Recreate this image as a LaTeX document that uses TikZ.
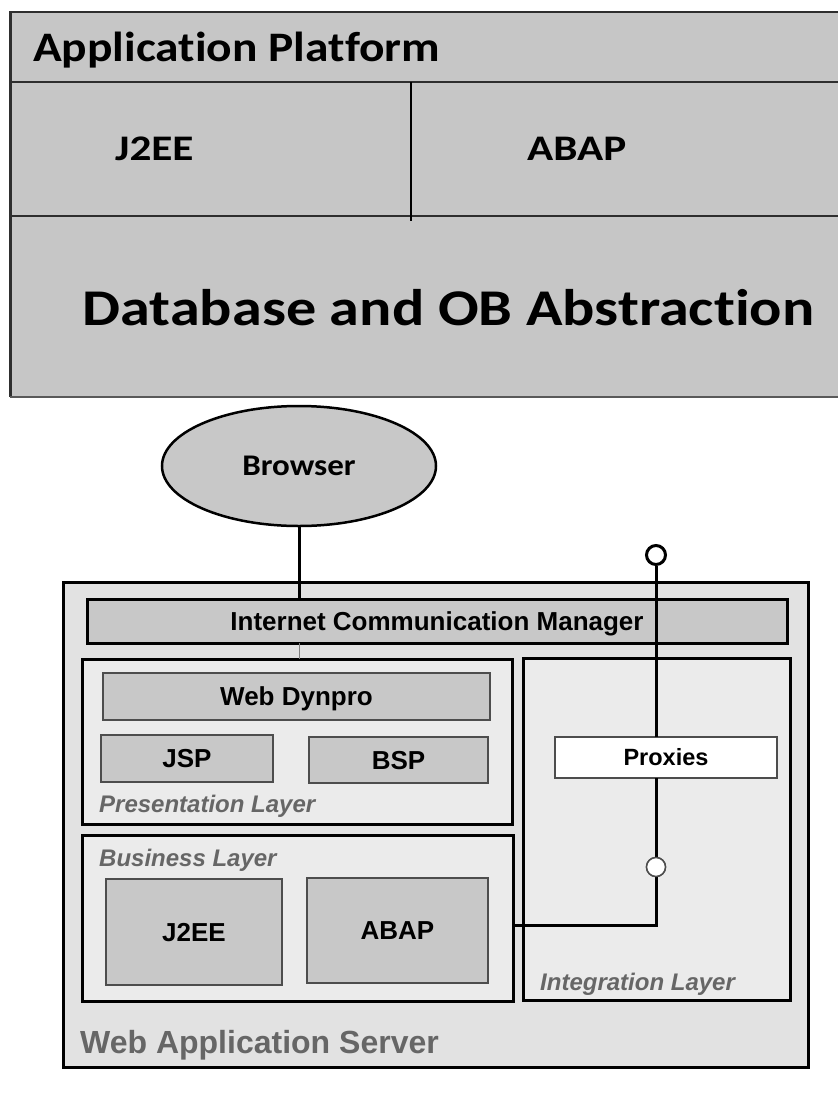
\documentclass[tikz,border=0pt]{standalone}
\usepackage{fontspec}
\setmainfont{Liberation Sans}
\newfontfamily\hdrfont[FakeStretch=1.13,Ligatures=NoCommon]{Carlito}
\newfontfamily\cellfont[FakeStretch=1.2,Ligatures=NoCommon]{Carlito}
\newfontfamily\dbfont[FakeStretch=1.17,Ligatures=NoCommon]{Carlito}
\newfontfamily\calfont[FakeStretch=1.1,Ligatures=NoCommon]{Carlito}
\usetikzlibrary{shapes.geometric}
\definecolor{topgray}{HTML}{C6C6C6}
\definecolor{topline}{HTML}{2E2E2E}
\definecolor{wasgray}{HTML}{E2E2E2}
\definecolor{laygray}{HTML}{EBEBEB}
\definecolor{boxgray}{HTML}{C8C8C8}
\definecolor{edgegray}{HTML}{4D4D4D}
\definecolor{labgray}{HTML}{666666}
\newcommand{\fsz}[1]{\fontsize{#1}{#1}\selectfont}
\begin{document}
\begin{tikzpicture}[x=1pt,y=-1pt,
  heavybox/.style={rectangle, draw=black, line width=3pt, inner sep=0pt, outer sep=0pt},
  layerbox/.style={heavybox, fill=laygray},
  innerbox/.style={rectangle, draw=edgegray, line width=1.5pt, fill=boxgray, inner sep=0pt, outer sep=0pt,
                   font=\bfseries\fsz{26}, text height=18.6pt, text depth=0pt},
  laylabel/.style={anchor=base west, text=labgray, font=\bfseries\itshape\fsz{24}, inner sep=0pt},
  toptext/.style={anchor=base west, font=\cellfont\bfseries\fsz{36}, inner sep=0pt},
  wire/.style={line width=3pt, draw=black}]
\useasboundingbox (0,0) rectangle (838,1093);
\fill[white] (0,0) rectangle (838,1093);
% ---------- top: application platform ----------
\fill[topgray] (10,12) rectangle (838,397);
\draw[topline, line width=2pt] (838,12) -- (10,12);
\draw[topline, line width=3pt] (10,11) -- (10,397);
\draw[topline, line width=2.5pt] (10,82) -- (838,82);
\draw[topline, line width=2.5pt] (10,216) -- (838,216);
\draw[black, line width=1.6pt] (411,82) -- (411,221);
\draw[black!65, line width=2pt] (10,397) -- (838,397);
\node[anchor=base west, inner sep=0pt, font=\hdrfont\bfseries\fsz{42}] (hdr) at (33,61) {Application Platform};
\node[toptext] (tj2ee) at (115,160) {J2EE};
\node[toptext] (tabap) at (527,160) {ABAP};
\node[anchor=base, inner sep=0pt, font=\dbfont\bfseries\fsz{51.5}] (tdb) at (448.5,325) {Database and OB Abstraction};
% ---------- bottom: web application server ----------
\node[ellipse, draw=black, line width=2.5pt, fill=boxgray, minimum width=274pt, minimum height=120pt,
      inner sep=0pt, font=\calfont\bfseries\fsz{30}, text height=19.3pt, text depth=0pt] (browser) at (299,466) {Browser};
\node[heavybox, fill=wasgray, minimum width=745pt, minimum height=485pt] (was) at (435.5,824.5) {};
\node[heavybox, fill=boxgray, minimum width=700pt, minimum height=44pt,
      font=\bfseries\fsz{26}, text height=18.6pt, text depth=0pt] (icm) at (437,621) {Internet Communication Manager};
\node[layerbox, minimum width=430pt, minimum height=165pt] (pres) at (297,741.5) {};
\node[layerbox, minimum width=431pt, minimum height=166pt] (bus) at (297.5,918) {};
\node[layerbox, minimum width=267pt, minimum height=342pt] (integ) at (656.5,829) {};
\node[innerbox, minimum width=387pt, minimum height=47pt] (wd) at (296.5,696.5) {Web Dynpro};
\node[innerbox, minimum width=172pt, minimum height=47pt] (jsp) at (187,758.5) {JSP};
\node[innerbox, minimum width=179pt, minimum height=46pt] (bsp) at (398.5,760) {BSP};
\node[innerbox, minimum width=176pt, minimum height=106pt] (bj2ee) at (194,932) {J2EE};
\node[innerbox, minimum width=181pt, minimum height=105pt] (babap) at (397.5,930.5) {ABAP};
\node[innerbox, fill=white, minimum width=222pt, minimum height=41pt,
      font=\bfseries\fsz{23.5}, text height=16.8pt] (prox) at (666,757.5) {Proxies};
\node[laylabel] (lpres) at (99,812) {Presentation Layer};
\node[laylabel] (lbus) at (99,866) {Business Layer};
\node[laylabel] (linteg) at (540,990) {Integration Layer};
\node[laylabel, font=\bfseries\fsz{32}] (lwas) at (80,1053) {Web Application Server};
% ---------- connectors ----------
\node[circle, draw=black, line width=3pt, fill=white, minimum size=19pt, inner sep=0pt] (ctop) at (656,555) {};
\node[circle, draw=edgegray, line width=1.5pt, fill=white, minimum size=19pt, inner sep=0pt] (cmid) at (656,867) {};
\coordinate (jt) at (bus.east |- 0,925);
\draw[wire] (browser.south) -- (browser.south |- icm.north);
\draw[gray, line width=1pt] (browser.south |- icm.south) -- (browser.south |- pres.north);
\draw[wire] (ctop.south) -- (ctop.south |- prox.north);
\draw[wire] (ctop.south |- prox.south) -- (cmid.north);
\draw[wire, line cap=butt] (cmid.south) |- (jt);
\node[circle, draw=edgegray, line width=1.5pt, fill=white, minimum size=19pt, inner sep=0pt] at (cmid) {};
\end{tikzpicture}
\end{document}
